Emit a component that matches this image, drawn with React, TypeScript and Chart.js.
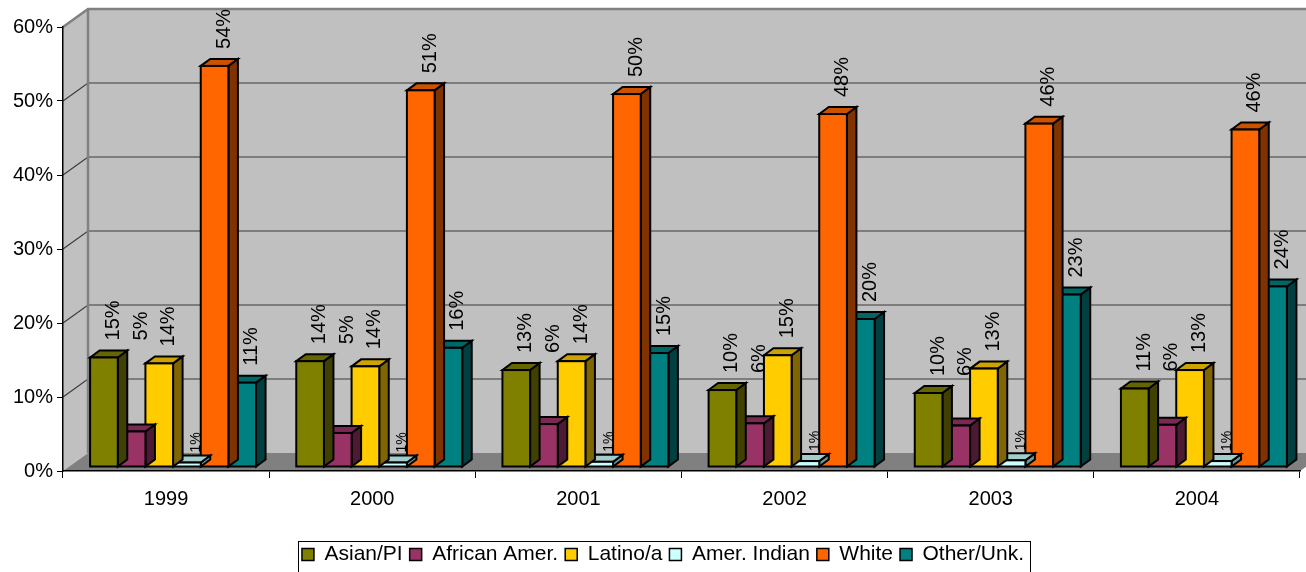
import React, { useEffect, useRef } from "react";
import { Chart, registerables } from "chart.js";

Chart.register(...registerables);

// ---------- data ----------
const years = ["1999", "2000", "2001", "2002", "2003", "2004"];
const seriesNames = ["Asian/PI", "African Amer.", "Latino/a", "Amer. Indian", "White", "Other/Unk."];
const asianPI = [14.8, 14.3, 13.1, 10.4, 10.0, 10.6];
const africanAmer = [4.8, 4.6, 5.8, 5.9, 5.6, 5.7];
const latino = [14.0, 13.6, 14.3, 15.1, 13.3, 13.1];
const amerIndian = [0.6, 0.6, 0.7, 0.8, 0.9, 0.8];
const white = [54.2, 50.9, 50.4, 47.7, 46.4, 45.6];
const otherUnk = [11.4, 16.1, 15.4, 20.0, 23.3, 24.4];
const yTickValues = [0, 10, 20, 30, 40, 50, 60];

// ---------- styles ----------
const FONT = "'Liberation Sans', Arial, Helvetica, sans-serif";
const frontColors = ["#808000", "#993366", "#FFCC00", "#CCFFFF", "#FF6600", "#008080"];
const topColors = ["#666600", "#7A2952", "#CCA300", "#A3CCCC", "#CC5200", "#006666"];
const sideColors = ["#404000", "#4D1A33", "#806600", "#669999", "#803300", "#004040"];
const labelSizes = [20, 20, 20, 14, 20, 20];
const labelGaps = [10, 10, 10, 3, 10, 10];
// label height is taken from the bar top of this series (same category)
const labelAnchorSeries = [0, 0, 2, 3, 4, 5];

const WALL_DX = 25;
const WALL_DY = -18;
const BAR_DX = 9.5;
const BAR_DY = -7;
const SHIFT_X = 7;
const SHIFT_Y = -4;
const PLOT_LEFT = 63;
const PLOT_BOTTOM = 471;
const LEGEND_SHIFT = 13;

function poly(ctx: CanvasRenderingContext2D, pts: number[][], fill?: string, stroke?: string, lw = 1) {
  ctx.beginPath();
  ctx.moveTo(pts[0][0], pts[0][1]);
  for (let i = 1; i < pts.length; i++) ctx.lineTo(pts[i][0], pts[i][1]);
  ctx.closePath();
  if (fill) {
    ctx.fillStyle = fill;
    ctx.fill();
  }
  if (stroke) {
    ctx.strokeStyle = stroke;
    ctx.lineWidth = lw;
    ctx.stroke();
  }
}

function line(ctx: CanvasRenderingContext2D, pts: number[][], color: string, lw: number) {
  ctx.beginPath();
  ctx.moveTo(pts[0][0], pts[0][1]);
  for (let i = 1; i < pts.length; i++) ctx.lineTo(pts[i][0], pts[i][1]);
  ctx.strokeStyle = color;
  ctx.lineWidth = lw;
  ctx.stroke();
}

const excel3d = {
  id: "excel3d",
  afterLayout(chart: any) {
    const lg = chart.legend;
    if (lg) {
      lg.left += LEGEND_SHIFT;
      lg.right += LEGEND_SHIFT;
    }
  },
  beforeDraw(chart: any) {
    const { ctx, chartArea: a, scales } = chart;
    const ys = scales.y;
    ctx.save();
    ctx.fillStyle = "#C0C0C0";
    ctx.fillRect(a.left + WALL_DX, a.top + WALL_DY, a.right - a.left, a.bottom - a.top);
    poly(ctx, [[a.left, a.top], [a.left + WALL_DX, a.top + WALL_DY], [a.left + WALL_DX, a.bottom + WALL_DY], [a.left, a.bottom]], "#C0C0C0");
    poly(ctx, [[a.left, a.bottom], [a.left + WALL_DX, a.bottom + WALL_DY], [a.right + WALL_DX, a.bottom + WALL_DY], [a.right, a.bottom]], "#808080");
    yTickValues.forEach((v) => {
      if (v === yTickValues[0] || v === yTickValues[yTickValues.length - 1]) return;
      const py = ys.getPixelForValue(v);
      line(ctx, [[a.left, py], [a.left + WALL_DX, py + WALL_DY], [a.right + WALL_DX, py + WALL_DY]], "#3a3a3a", 1.2);
    });
    line(ctx, [[a.left, a.top], [a.left + WALL_DX, a.top + WALL_DY], [a.right + WALL_DX, a.top + WALL_DY]], "#808080", 2.5);
    line(ctx, [[a.left + WALL_DX, a.top + WALL_DY], [a.left + WALL_DX, a.bottom + WALL_DY]], "#808080", 2.5);
    ctx.restore();
  },
  beforeDatasetDraw(chart: any, args: any) {
    const ctx = chart.ctx;
    const i = args.index;
    ctx.save();
    ctx.translate(SHIFT_X, SHIFT_Y);
    ctx.lineJoin = "miter";
    args.meta.data.forEach((bar: any) => {
      const { x, y, base, width } = bar.getProps(["x", "y", "base", "width"], true);
      const l = x - width / 2;
      const r = x + width / 2;
      poly(ctx, [[r, y], [r + BAR_DX, y + BAR_DY], [r + BAR_DX, base + BAR_DY], [r, base]], sideColors[i], "#000", 2);
      poly(ctx, [[l, y], [l + BAR_DX, y + BAR_DY], [r + BAR_DX, y + BAR_DY], [r, y]], topColors[i], "#000", 2);
    });
  },
  afterDatasetDraw(chart: any, args: any) {
    const ctx = chart.ctx;
    const i = args.index;
    const values = chart.data.datasets[i].data as number[];
    const anchorMeta = chart.getDatasetMeta(labelAnchorSeries[i]);
    args.meta.data.forEach((bar: any, j: number) => {
      const { x, y, base, width } = bar.getProps(["x", "y", "base", "width"], true);
      const l = x - width / 2;
      ctx.strokeStyle = "#000";
      ctx.lineWidth = 2;
      ctx.strokeRect(l, y, width, base - y);
      const ay = anchorMeta.data[j] ? anchorMeta.data[j].getProps(["y"], true).y : y;
      ctx.save();
      ctx.translate(x + BAR_DX, ay + BAR_DY - labelGaps[i]);
      ctx.rotate(-Math.PI / 2);
      ctx.font = `${labelSizes[i]}px ${FONT}`;
      ctx.fillStyle = "#000";
      ctx.textAlign = "left";
      ctx.textBaseline = "middle";
      ctx.fillText(Math.round(values[j]) + "%", 0, 0);
      ctx.restore();
    });
    ctx.restore();
  },
  afterDraw(chart: any) {
    const lg = chart.legend;
    if (!lg || !lg.legendHitBoxes || !lg.legendHitBoxes.length) return;
    const hb = lg.legendHitBoxes;
    let minL = Infinity, maxR = -Infinity, top = Infinity;
    hb.forEach((h: any) => {
      minL = Math.min(minL, h.left);
      maxR = Math.max(maxR, h.left + h.width);
      top = Math.min(top, h.top);
    });
    const ctx = chart.ctx;
    ctx.save();
    ctx.strokeStyle = "#000";
    ctx.lineWidth = 1;
    ctx.strokeRect(Math.round(minL - 4) + 0.5, Math.round(top - 3) + 0.5, Math.round(maxR - minL + 10), 40);
    ctx.restore();
  },
};

export default function App() {
  const ref = useRef<HTMLCanvasElement | null>(null);
  useEffect(() => {
    if (!ref.current) return;
    Chart.defaults.font.family = FONT;
    Chart.defaults.color = "#000";
    const seriesData = [asianPI, africanAmer, latino, amerIndian, white, otherUnk];
    const chart = new Chart(ref.current, {
      type: "bar",
      data: {
        labels: years,
        datasets: seriesNames.map((name, i) => ({
          label: name,
          data: seriesData[i],
          backgroundColor: frontColors[i],
          borderWidth: 0,
          categoryPercentage: 0.805,
          barPercentage: 1,
          clip: false as any,
        })),
      },
      options: {
        animation: false,
        responsive: false,
        devicePixelRatio: 1,
        layout: { padding: { top: 27, right: 6, left: 0, bottom: 0 } },
        plugins: {
          tooltip: { enabled: false },
          legend: {
            position: "bottom",
            labels: {
              font: { size: 21, family: FONT },
              color: "#000",
              boxWidth: 12,
              boxHeight: 12,
              padding: 7,
              generateLabels: (c: any) => {
                const items = Chart.defaults.plugins.legend.labels.generateLabels(c);
                return items.map((it: any) => ({ ...it, lineWidth: 1.5, strokeStyle: "#000" }));
              },
            },
          },
        },
        scales: {
          x: {
            grid: { offset: true, drawOnChartArea: false, drawTicks: true, tickLength: 7, color: "#000", lineWidth: 1 },
            border: { display: true, color: "#000", width: 1.5 },
            ticks: { font: { size: 20, family: FONT }, color: "#000", padding: 9, maxRotation: 0 },
            afterFit: (scale: any) => {
              const lg = scale.chart.legend;
              const lh = lg ? lg.height : 0;
              scale.height = scale.chart.height - lh - PLOT_BOTTOM;
            },
          },
          y: {
            min: 0,
            max: 60,
            afterBuildTicks: (scale: any) => {
              scale.ticks = yTickValues.map((v) => ({ value: v }));
            },
            grid: { drawOnChartArea: false, drawTicks: true, tickLength: 6, color: "#000", lineWidth: 1 },
            border: { display: true, color: "#000", width: 1.5 },
            ticks: {
              font: { size: 20, family: FONT },
              color: "#000",
              padding: 4,
              callback: (v: any) => v + "%",
            },
            afterFit: (scale: any) => {
              scale.width = PLOT_LEFT;
            },
          },
        },
      },
      plugins: [excel3d],
    });
    return () => chart.destroy();
  }, []);
  return (
    <div style={{ position: "fixed", left: 0, top: 0, width: 1306, height: 572, overflow: "hidden", background: "#fff" }}>
      <canvas ref={ref} width={1306} height={575} style={{ display: "block" }} />
    </div>
  );
}
